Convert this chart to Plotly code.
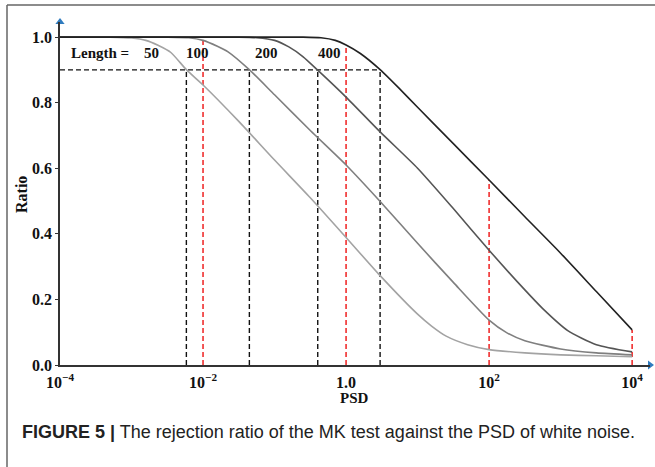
import plotly.graph_objects as go

# ---- data (PSD given as log10 exponents, ratio values) ----
lengths = ["50", "100", "200", "400"]

psd_exp_50 = [-4, -3.3, -3.0, -2.8, -2.63, -2.45, -2.23, -2.0, -1.5, -1.0, -0.5, 0.0, 0.47, 1.0, 1.2, 1.4, 1.7, 2.0, 2.5, 3.0, 3.5, 4.0]
ratio_50 = [1.0, 1.0, 0.997, 0.99, 0.975, 0.953, 0.90, 0.854, 0.743, 0.625, 0.51, 0.389, 0.274, 0.155, 0.118, 0.088, 0.062, 0.047, 0.037, 0.031, 0.028, 0.025]

psd_exp_100 = [-4, -2.5, -2.2, -2.0, -1.8, -1.65, -1.35, -1.0, -0.5, 0.0, 0.48, 1.0, 1.5, 2.0, 2.25, 2.5, 3.0, 3.5, 4.0]
ratio_100 = [1.0, 1.0, 0.998, 0.99, 0.972, 0.955, 0.90, 0.824, 0.715, 0.61, 0.498, 0.371, 0.252, 0.137, 0.098, 0.074, 0.049, 0.037, 0.031]

psd_exp_200 = [-4, -1.5, -1.25, -1.0, -0.8, -0.6, -0.4, 0.0, 0.48, 1.0, 1.5, 2.0, 2.5, 2.75, 3.1, 3.5, 4.0]
ratio_200 = [1.0, 1.0, 0.998, 0.99, 0.97, 0.94, 0.90, 0.817, 0.71, 0.60, 0.477, 0.35, 0.229, 0.172, 0.105, 0.062, 0.04]

psd_exp_400 = [-4, -0.6, -0.35, -0.15, 0.0, 0.2, 0.48, 0.75, 1.0, 1.5, 2.0, 2.5, 3.0, 3.5, 4.0]
ratio_400 = [1.0, 1.0, 0.998, 0.99, 0.976, 0.95, 0.90, 0.842, 0.786, 0.675, 0.564, 0.452, 0.341, 0.224, 0.107]

threshold = 0.9
crossing_exp = [-2.233, -1.352, -0.396, 0.476]      # PSD where each curve hits 0.9
red_exp = [-2, 0, 2, 4]                              # reference PSD levels
red_top = [1.0, 0.976, 0.564, 0.107]                 # ratio of length-400 curve there

x_tick_exp = [-4, -2, 0, 2, 4]
x_tick_text = ["10<sup>−4</sup>", "10<sup>−2</sup>", "1.0", "10<sup>2</sup>", "10<sup>4</sup>"]
y_tick_vals = [0.0, 0.2, 0.4, 0.6, 0.8, 1.0]
y_tick_text = ["0.0", "0.2", "0.4", "0.6", "0.8", "1.0"]

colors = ["#a3a3a3", "#7f7f7f", "#555555", "#222222"]
SERIF = "Liberation Serif, Times New Roman, serif"

fig = go.Figure()

# dashed guide lines
dash_style = "5px,3px"
fig.add_trace(go.Scatter(x=[1e-4, 10 ** crossing_exp[-1]], y=[threshold, threshold], mode="lines",
                         line=dict(color="#111111", width=1.4, dash=dash_style), showlegend=False, hoverinfo="skip"))
for ce in crossing_exp:
    fig.add_trace(go.Scatter(x=[10 ** ce, 10 ** ce], y=[0, threshold], mode="lines",
                             line=dict(color="#111111", width=1.4, dash=dash_style), showlegend=False, hoverinfo="skip"))
for re_, rt in zip(red_exp, red_top):
    fig.add_trace(go.Scatter(x=[10 ** re_, 10 ** re_], y=[0, rt], mode="lines",
                             line=dict(color="#ee1111", width=1.4, dash=dash_style), showlegend=False, hoverinfo="skip"))

series = [(psd_exp_50, ratio_50), (psd_exp_100, ratio_100), (psd_exp_200, ratio_200), (psd_exp_400, ratio_400)]
for (xe, yv), c, name in zip(series, colors, lengths):
    fig.add_trace(go.Scatter(x=[10 ** v for v in xe], y=yv, mode="lines", name=name,
                             line=dict(color=c, width=1.6, shape="spline", smoothing=0.6),
                             showlegend=False, cliponaxis=False))

# axis arrows
fig.add_trace(go.Scatter(x=[1e-4], y=[1.046], mode="markers", cliponaxis=False, showlegend=False,
                         marker=dict(symbol="triangle-up", size=8, color="#2f7bbf"), hoverinfo="skip"))
fig.add_trace(go.Scatter(x=[10 ** 4.25], y=[0], mode="markers", cliponaxis=False, showlegend=False,
                         marker=dict(symbol="triangle-right", size=8, color="#2f7bbf"), hoverinfo="skip"))

annotations = []
label_font = dict(family=SERIF, size=15, color="#111111", weight="bold")
annotations.append(dict(x=-3.434, y=0.951, xref="x", yref="y", text="Length =", showarrow=False,
                        xanchor="center", yanchor="middle", font=label_font))
for xl, t in zip([-2.72, -2.077, -1.119, -0.238], lengths):
    annotations.append(dict(x=xl, y=0.951, xref="x", yref="y", text=t, showarrow=False,
                            xanchor="center", yanchor="middle", font=label_font))

annotations.append(dict(x=(354 - 60) / 590, y=(365 - 398) / 343, xref="paper", yref="paper", text="PSD",
                        xanchor="center", yanchor="middle", showarrow=False,
                        font=dict(family=SERIF, size=15, color="#111111", weight="bold")))
annotations.append(dict(x=(22 - 60) / 590, y=(365 - 195) / 343, xref="paper", yref="paper", text="Ratio",
                        xanchor="center", yanchor="middle", textangle=-90, showarrow=False,
                        font=dict(family=SERIF, size=16, color="#111111", weight="bold")))
annotations.append(dict(x=(20 - 60) / 590, y=(365 - 432) / 343, xref="paper", yref="paper",
                        xanchor="left", yanchor="middle",
                        text="<b>FIGURE 5 |</b> The rejection ratio of the MK test against the PSD of white noise.",
                        showarrow=False,
                        font=dict(family="Liberation Sans, Arial, sans-serif", size=18, color="#222222")))

shapes = [
    dict(type="line", xref="paper", yref="paper", x0=(7 - 60) / 590, x1=(656 - 60) / 590,
         y0=1 + (22 - 5) / 343, y1=1 + (22 - 5) / 343, line=dict(color="#666666", width=1.5)),
    dict(type="line", xref="paper", yref="paper", x0=(7 - 60) / 590, x1=(7 - 60) / 590,
         y0=1 + (22 - 5) / 343, y1=(365 - 468) / 343, line=dict(color="#666666", width=1.5)),
]

fig.update_layout(
    width=655, height=467,
    margin=dict(l=60, r=5, t=22, b=102),
    paper_bgcolor="white", plot_bgcolor="white",
    annotations=annotations, shapes=shapes,
    xaxis=dict(type="log", range=[-4, 4.25], showgrid=False, zeroline=False,
               showline=True, linecolor="#333333", linewidth=1.5,
               tickvals=[10 ** v for v in x_tick_exp], ticktext=x_tick_text, ticks="",
               ticklabelstandoff=2,
               tickfont=dict(family=SERIF, size=16, color="#111111", weight="bold")),
    yaxis=dict(range=[0, 1.046], showgrid=False, zeroline=False,
               showline=True, linecolor="#333333", linewidth=1.5,
               tickvals=y_tick_vals, ticktext=y_tick_text, ticks="outside", ticklen=3,
               tickcolor="#333333",
               tickfont=dict(family=SERIF, size=16, color="#111111", weight="bold")),
)

fig.write_html("out.html")
